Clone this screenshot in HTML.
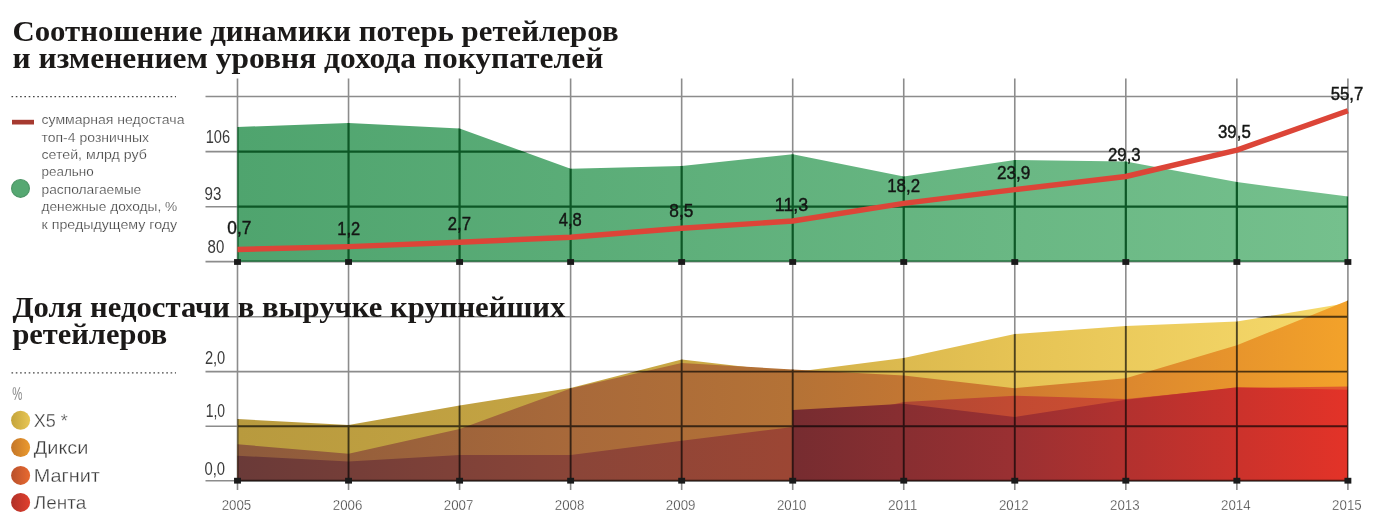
<!DOCTYPE html>
<html><head><meta charset="utf-8"><style>
html,body{margin:0;padding:0;background:#fff;}
svg{display:block;}
.s{font-family:"Liberation Sans",sans-serif;}
.b{font-family:"Liberation Serif",serif;font-weight:bold;}
</style></head><body>
<svg width="1374" height="525" viewBox="0 0 1374 525"><defs>
<linearGradient id="gGreen" x1="237" x2="1347" y1="0" y2="0" gradientUnits="userSpaceOnUse">
 <stop offset="0" stop-color="#4fa46e"/><stop offset="1" stop-color="#75c08d"/></linearGradient>
<linearGradient id="gY" x1="237" x2="1347" y1="0" y2="0" gradientUnits="userSpaceOnUse">
 <stop offset="0" stop-color="#b89a3e"/><stop offset="0.4" stop-color="#c9a845"/><stop offset="0.7" stop-color="#e6c354"/><stop offset="1" stop-color="#f6da6c"/></linearGradient>
<linearGradient id="gO" x1="237" x2="1347" y1="0" y2="0" gradientUnits="userSpaceOnUse">
 <stop offset="0" stop-color="#8d5a3c"/><stop offset="0.3" stop-color="#a8693a"/><stop offset="0.5" stop-color="#b47236"/><stop offset="0.7" stop-color="#d07a30"/><stop offset="1" stop-color="#f3a22a"/></linearGradient>
<linearGradient id="gM" x1="237" x2="1347" y1="0" y2="0" gradientUnits="userSpaceOnUse">
 <stop offset="0" stop-color="#6a3a38"/><stop offset="0.3" stop-color="#8a4538"/><stop offset="0.5" stop-color="#9c4634"/><stop offset="0.7" stop-color="#c24a32"/><stop offset="1" stop-color="#e2582f"/></linearGradient>
<linearGradient id="gR" x1="792" x2="1347" y1="0" y2="0" gradientUnits="userSpaceOnUse">
 <stop offset="0" stop-color="#762c30"/><stop offset="0.4" stop-color="#9a3032"/><stop offset="1" stop-color="#e33328"/></linearGradient>
<linearGradient id="cY" x1="0" y1="0" x2="1" y2="0"><stop offset="0" stop-color="#c4a43a"/><stop offset="1" stop-color="#e8c655"/></linearGradient>
<linearGradient id="cO" x1="0" y1="0" x2="1" y2="0"><stop offset="0" stop-color="#c47628"/><stop offset="1" stop-color="#eb9a2e"/></linearGradient>
<linearGradient id="cM" x1="0" y1="0" x2="1" y2="0"><stop offset="0" stop-color="#b8502c"/><stop offset="1" stop-color="#e86a30"/></linearGradient>
<linearGradient id="cR" x1="0" y1="0" x2="1" y2="0"><stop offset="0" stop-color="#b03028"/><stop offset="1" stop-color="#e0402e"/></linearGradient>
</defs>
<g stroke="#8c8c8c" stroke-width="1.6" fill="none">
<line x1="237.50" y1="78.5" x2="237.50" y2="490"/>
<line x1="348.54" y1="78.5" x2="348.54" y2="490"/>
<line x1="459.58" y1="78.5" x2="459.58" y2="490"/>
<line x1="570.62" y1="78.5" x2="570.62" y2="490"/>
<line x1="681.66" y1="78.5" x2="681.66" y2="490"/>
<line x1="792.70" y1="78.5" x2="792.70" y2="490"/>
<line x1="903.74" y1="78.5" x2="903.74" y2="490"/>
<line x1="1014.78" y1="78.5" x2="1014.78" y2="490"/>
<line x1="1125.82" y1="78.5" x2="1125.82" y2="490"/>
<line x1="1236.86" y1="78.5" x2="1236.86" y2="490"/>
<line x1="1347.90" y1="78.5" x2="1347.90" y2="490"/>
<line x1="205.5" y1="96.5" x2="1347.90" y2="96.5"/>
<line x1="205.5" y1="151.6" x2="1347.90" y2="151.6"/>
<line x1="205.5" y1="206.7" x2="1347.90" y2="206.7"/>
<line x1="205.5" y1="261.6" x2="1347.90" y2="261.6"/>
<line x1="205.5" y1="316.7" x2="1347.90" y2="316.7"/>
<line x1="205.5" y1="371.6" x2="1347.90" y2="371.6"/>
<line x1="205.5" y1="426.3" x2="1347.90" y2="426.3"/>
<line x1="205.5" y1="480.8" x2="1347.90" y2="480.8"/>
</g>
<polygon points="237.50,261.60 237.50,127.00 348.54,122.90 459.58,128.40 570.62,168.80 681.66,166.10 792.70,154.20 903.74,176.50 1014.78,159.90 1125.82,161.50 1236.86,182.10 1347.90,196.50 1347.90,261.60" fill="url(#gGreen)"/>
<clipPath id="clipG"><polygon points="237.50,261.60 237.50,127.00 348.54,122.90 459.58,128.40 570.62,168.80 681.66,166.10 792.70,154.20 903.74,176.50 1014.78,159.90 1125.82,161.50 1236.86,182.10 1347.90,196.50 1347.90,261.60"/></clipPath>
<g clip-path="url(#clipG)" stroke="#0d5726" stroke-width="2.2">
<line x1="237.50" y1="78.5" x2="237.50" y2="490"/>
<line x1="348.54" y1="78.5" x2="348.54" y2="490"/>
<line x1="459.58" y1="78.5" x2="459.58" y2="490"/>
<line x1="570.62" y1="78.5" x2="570.62" y2="490"/>
<line x1="681.66" y1="78.5" x2="681.66" y2="490"/>
<line x1="792.70" y1="78.5" x2="792.70" y2="490"/>
<line x1="903.74" y1="78.5" x2="903.74" y2="490"/>
<line x1="1014.78" y1="78.5" x2="1014.78" y2="490"/>
<line x1="1125.82" y1="78.5" x2="1125.82" y2="490"/>
<line x1="1236.86" y1="78.5" x2="1236.86" y2="490"/>
<line x1="1347.90" y1="78.5" x2="1347.90" y2="490"/>
<line x1="205.5" y1="96.5" x2="1347.90" y2="96.5"/>
<line x1="205.5" y1="151.6" x2="1347.90" y2="151.6"/>
<line x1="205.5" y1="206.7" x2="1347.90" y2="206.7"/>
<line x1="205.5" y1="261.6" x2="1347.90" y2="261.6"/>
</g>
<polyline fill="none" stroke="#dc4538" stroke-width="5.4" stroke-linejoin="round" points="237.50,249.5 348.54,246.6 459.58,242.2 570.62,237.2 681.66,228.3 792.70,221 903.74,203.4 1014.78,189.6 1125.82,176.5 1236.86,150.1 1347.90,110.7"/>
<polygon points="237.50,480.80 237.50,419.10 348.54,424.90 459.58,405.50 570.62,388.00 681.66,359.50 792.70,372.20 903.74,358.00 1014.78,334.00 1125.82,326.00 1236.86,321.60 1347.90,303.00 1347.90,480.80" fill="url(#gY)"/>
<polygon points="237.50,480.80 237.50,444.30 348.54,453.70 459.58,429.00 570.62,388.50 681.66,363.00 792.70,369.40 903.74,375.40 1014.78,388.20 1125.82,378.20 1236.86,345.30 1347.90,300.50 1347.90,480.80" fill="url(#gO)"/>
<polygon points="237.50,480.80 237.50,455.70 348.54,461.40 459.58,455.10 570.62,455.10 681.66,440.70 792.70,427.10 903.74,402.00 1014.78,395.70 1125.82,399.00 1236.86,388.00 1347.90,386.40 1347.90,480.80" fill="url(#gM)"/>
<polygon points="792.70,480.80 792.70,410.00 903.74,403.80 1014.78,417.00 1125.82,399.80 1236.86,387.20 1347.90,389.80 1347.90,480.80" fill="url(#gR)"/>
<clipPath id="clipL"><polygon points="237.50,481.80 237.50,419.10 348.54,424.90 459.58,405.50 570.62,388.00 681.66,359.50 792.70,369.40 903.74,358.00 1014.78,334.00 1125.82,326.00 1236.86,321.60 1347.90,300.50 1347.90,481.80"/></clipPath>
<g clip-path="url(#clipL)" stroke="#555555" stroke-width="1.9" style="mix-blend-mode:multiply">
<line x1="237.50" y1="300" x2="237.50" y2="490"/>
<line x1="348.54" y1="300" x2="348.54" y2="490"/>
<line x1="459.58" y1="300" x2="459.58" y2="490"/>
<line x1="570.62" y1="300" x2="570.62" y2="490"/>
<line x1="681.66" y1="300" x2="681.66" y2="490"/>
<line x1="792.70" y1="300" x2="792.70" y2="490"/>
<line x1="903.74" y1="300" x2="903.74" y2="490"/>
<line x1="1014.78" y1="300" x2="1014.78" y2="490"/>
<line x1="1125.82" y1="300" x2="1125.82" y2="490"/>
<line x1="1236.86" y1="300" x2="1236.86" y2="490"/>
<line x1="1347.90" y1="300" x2="1347.90" y2="490"/>
<line x1="205.5" y1="316.7" x2="1347.90" y2="316.7"/>
<line x1="205.5" y1="371.6" x2="1347.90" y2="371.6"/>
<line x1="205.5" y1="426.3" x2="1347.90" y2="426.3"/>
<line x1="205.5" y1="480.8" x2="1347.90" y2="480.8"/>
</g>
<g fill="#1a1a1a">
<rect x="234.05" y="259.10" width="6.9" height="5.8"/>
<rect x="234.05" y="477.80" width="6.9" height="5.8"/>
<rect x="345.09" y="259.10" width="6.9" height="5.8"/>
<rect x="345.09" y="477.80" width="6.9" height="5.8"/>
<rect x="456.13" y="259.10" width="6.9" height="5.8"/>
<rect x="456.13" y="477.80" width="6.9" height="5.8"/>
<rect x="567.17" y="259.10" width="6.9" height="5.8"/>
<rect x="567.17" y="477.80" width="6.9" height="5.8"/>
<rect x="678.21" y="259.10" width="6.9" height="5.8"/>
<rect x="678.21" y="477.80" width="6.9" height="5.8"/>
<rect x="789.25" y="259.10" width="6.9" height="5.8"/>
<rect x="789.25" y="477.80" width="6.9" height="5.8"/>
<rect x="900.29" y="259.10" width="6.9" height="5.8"/>
<rect x="900.29" y="477.80" width="6.9" height="5.8"/>
<rect x="1011.33" y="259.10" width="6.9" height="5.8"/>
<rect x="1011.33" y="477.80" width="6.9" height="5.8"/>
<rect x="1122.37" y="259.10" width="6.9" height="5.8"/>
<rect x="1122.37" y="477.80" width="6.9" height="5.8"/>
<rect x="1233.41" y="259.10" width="6.9" height="5.8"/>
<rect x="1233.41" y="477.80" width="6.9" height="5.8"/>
<rect x="1344.45" y="259.10" width="6.9" height="5.8"/>
<rect x="1344.45" y="477.80" width="6.9" height="5.8"/>
</g>
<text class="s" transform="translate(227.30,234.40) scale(0.9124,1)" style="font-size:18.92px;fill:#141614" stroke="#141614" stroke-width="0.45">0,7</text>
<text class="s" transform="translate(337.30,235.00) scale(0.8878,1)" style="font-size:18.64px;fill:#141614" stroke="#141614" stroke-width="0.45">1,2</text>
<text class="s" transform="translate(447.80,229.90) scale(0.8819,1)" style="font-size:18.92px;fill:#141614" stroke="#141614" stroke-width="0.45">2,7</text>
<text class="s" transform="translate(558.70,225.80) scale(0.8743,1)" style="font-size:18.92px;fill:#141614" stroke="#141614" stroke-width="0.45">4,8</text>
<text class="s" transform="translate(669.30,216.50) scale(0.9193,1)" style="font-size:18.78px;fill:#141614" stroke="#141614" stroke-width="0.45">8,5</text>
<text class="s" transform="translate(774.80,211.20) scale(0.9354,1)" style="font-size:19.07px;fill:#141614" stroke="#141614" stroke-width="0.45">11,3</text>
<text class="s" transform="translate(887.20,192.00) scale(0.8927,1)" style="font-size:18.92px;fill:#141614" stroke="#141614" stroke-width="0.45">18,2</text>
<text class="s" transform="translate(996.90,178.80) scale(0.9021,1)" style="font-size:19.07px;fill:#141614" stroke="#141614" stroke-width="0.45">23,9</text>
<text class="s" transform="translate(1108.00,160.80) scale(0.8872,1)" style="font-size:18.92px;fill:#141614" stroke="#141614" stroke-width="0.45">29,3</text>
<text class="s" transform="translate(1218.00,138.10) scale(0.9178,1)" style="font-size:18.35px;fill:#141614" stroke="#141614" stroke-width="0.45">39,5</text>
<text class="s" transform="translate(1330.80,100.00) scale(0.9312,1)" style="font-size:17.92px;fill:#141614" stroke="#141614" stroke-width="0.45">55,7</text>
<text class="s" transform="translate(205.70,142.90) scale(0.8366,1)" style="font-size:17.49px;fill:#3a3a3a" >106</text>
<text class="s" transform="translate(204.50,200.00) scale(0.8494,1)" style="font-size:17.78px;fill:#3a3a3a" >93</text>
<text class="s" transform="translate(207.60,252.90) scale(0.8582,1)" style="font-size:17.49px;fill:#3a3a3a" >80</text>
<text class="s" transform="translate(204.90,364.00) scale(0.8391,1)" style="font-size:17.49px;fill:#3a3a3a" >2,0</text>
<text class="s" transform="translate(205.70,417.10) scale(0.7726,1)" style="font-size:18.06px;fill:#3a3a3a" >1,0</text>
<text class="s" transform="translate(204.50,474.80) scale(0.8473,1)" style="font-size:17.49px;fill:#3a3a3a" >0,0</text>
<text class="s" transform="translate(221.70,510.00) scale(0.8922,1)" style="font-size:14.91px;fill:#3c3c3c" stroke="#fff" stroke-width="0.3">2005</text>
<text class="s" transform="translate(332.74,510.00) scale(0.8922,1)" style="font-size:14.91px;fill:#3c3c3c" stroke="#fff" stroke-width="0.3">2006</text>
<text class="s" transform="translate(443.78,510.00) scale(0.8922,1)" style="font-size:14.91px;fill:#3c3c3c" stroke="#fff" stroke-width="0.3">2007</text>
<text class="s" transform="translate(554.82,510.00) scale(0.8922,1)" style="font-size:14.91px;fill:#3c3c3c" stroke="#fff" stroke-width="0.3">2008</text>
<text class="s" transform="translate(665.86,510.00) scale(0.8922,1)" style="font-size:14.91px;fill:#3c3c3c" stroke="#fff" stroke-width="0.3">2009</text>
<text class="s" transform="translate(776.90,510.00) scale(0.8922,1)" style="font-size:14.91px;fill:#3c3c3c" stroke="#fff" stroke-width="0.3">2010</text>
<text class="s" transform="translate(887.94,510.00) scale(0.9233,1)" style="font-size:14.91px;fill:#3c3c3c" stroke="#fff" stroke-width="0.3">2011</text>
<text class="s" transform="translate(998.98,510.00) scale(0.8922,1)" style="font-size:14.91px;fill:#3c3c3c" stroke="#fff" stroke-width="0.3">2012</text>
<text class="s" transform="translate(1110.02,510.00) scale(0.8922,1)" style="font-size:14.91px;fill:#3c3c3c" stroke="#fff" stroke-width="0.3">2013</text>
<text class="s" transform="translate(1221.06,510.00) scale(0.8922,1)" style="font-size:14.91px;fill:#3c3c3c" stroke="#fff" stroke-width="0.3">2014</text>
<text class="s" transform="translate(1332.10,510.00) scale(0.8922,1)" style="font-size:14.91px;fill:#3c3c3c" stroke="#fff" stroke-width="0.3">2015</text>
<text class="b" transform="translate(12.40,40.50) scale(1.0287,1)" style="font-size:30.00px;fill:#1b1918" >Соотношение динамики потерь ретейлеров</text>
<text class="b" transform="translate(12.50,67.50) scale(1.0494,1)" style="font-size:30.00px;fill:#1b1918" >и изменением уровня дохода покупателей</text>
<text class="b" transform="translate(12.50,316.70) scale(1.0235,1)" style="font-size:30.00px;fill:#1b1918" >Доля недостачи в выручке крупнейших</text>
<text class="b" transform="translate(12.40,344.00) scale(1.0156,1)" style="font-size:30.00px;fill:#1b1918" >ретейлеров</text>
<line x1="11.5" y1="96.6" x2="176" y2="96.6" stroke="#444" stroke-width="1.3" stroke-dasharray="1.6 2.7"/>
<line x1="11.5" y1="372.8" x2="176" y2="372.8" stroke="#444" stroke-width="1.3" stroke-dasharray="1.6 2.7"/>
<rect x="12" y="119.8" width="22" height="4.7" fill="#a63a30"/>
<circle cx="20.5" cy="188.4" r="8.9" fill="#56a872" stroke="#4e9667" stroke-width="1.2"/>
<text class="s" transform="translate(41.50,124.10) scale(1.0402,1)" style="font-size:13.50px;fill:#444444" stroke="#fff" stroke-width="0.22">суммарная недостача</text>
<text class="s" transform="translate(41.50,141.50) scale(1.0375,1)" style="font-size:13.50px;fill:#444444" stroke="#fff" stroke-width="0.22">топ-4 розничных</text>
<text class="s" transform="translate(41.50,158.90) scale(1.0511,1)" style="font-size:13.50px;fill:#444444" stroke="#fff" stroke-width="0.22">сетей, млрд руб</text>
<text class="s" transform="translate(41.50,176.30) scale(0.9978,1)" style="font-size:13.50px;fill:#444444" stroke="#fff" stroke-width="0.22">реально</text>
<text class="s" transform="translate(41.50,193.70) scale(1.0214,1)" style="font-size:13.50px;fill:#444444" stroke="#fff" stroke-width="0.22">располагаемые</text>
<text class="s" transform="translate(41.50,211.10) scale(1.0158,1)" style="font-size:13.50px;fill:#444444" stroke="#fff" stroke-width="0.22">денежные доходы, %</text>
<text class="s" transform="translate(41.50,228.50) scale(1.0555,1)" style="font-size:13.50px;fill:#444444" stroke="#fff" stroke-width="0.22">к предыдущему году</text>
<text class="s" transform="translate(12.20,399.60) scale(0.6162,1)" style="font-size:18.42px;fill:#555555" stroke="#fff" stroke-width="0.3">%</text>
<circle cx="20.6" cy="420.2" r="9.5" fill="url(#cY)"/>
<text class="s" transform="translate(33.80,426.50) scale(0.9994,1)" style="font-size:18.00px;fill:#3a3a3a" stroke="#fff" stroke-width="0.3">X5 *</text>
<circle cx="20.6" cy="447.5" r="9.5" fill="url(#cO)"/>
<text class="s" transform="translate(33.80,454.20) scale(1.1060,1)" style="font-size:18.00px;fill:#3a3a3a" stroke="#fff" stroke-width="0.3">Дикси</text>
<circle cx="20.6" cy="475.4" r="9.5" fill="url(#cM)"/>
<text class="s" transform="translate(33.80,481.50) scale(1.1028,1)" style="font-size:18.00px;fill:#3a3a3a" stroke="#fff" stroke-width="0.3">Магнит</text>
<circle cx="20.6" cy="502.4" r="9.5" fill="url(#cR)"/>
<text class="s" transform="translate(33.80,509.20) scale(1.0529,1)" style="font-size:18.00px;fill:#3a3a3a" stroke="#fff" stroke-width="0.3">Лента</text></svg>
</body></html>
